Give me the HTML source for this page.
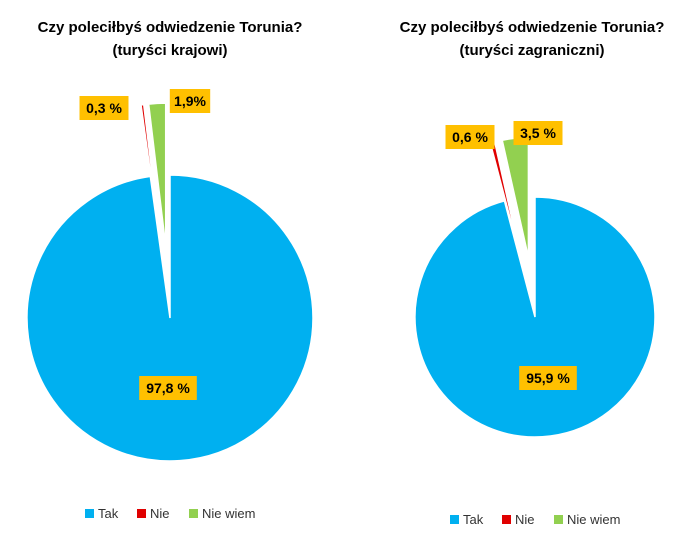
<!DOCTYPE html>
<html><head><meta charset="utf-8">
<style>
body{margin:0;background:#fff;width:691px;height:540px;overflow:hidden;font-family:"Liberation Sans",sans-serif}
svg text{font-family:"Liberation Sans",sans-serif}
</style></head>
<body>
<svg id="c" width="691" height="540">
<text x="170" y="32" font-size="15" font-weight="bold" text-anchor="middle">Czy poleciłbyś odwiedzenie Torunia?</text>
<text x="170" y="55" font-size="15" font-weight="bold" text-anchor="middle">(turyści krajowi)</text>
<text x="532" y="32" font-size="15" font-weight="bold" text-anchor="middle">Czy poleciłbyś odwiedzenie Torunia?</text>
<text x="532" y="55" font-size="15" font-weight="bold" text-anchor="middle">(turyści zagraniczni)</text>
</svg>
<script>
const categories=["Tak","Nie","Nie wiem"];
const domesticValues=[97.8,0.3,1.9];
const foreignValues=[95.9,0.6,3.5];
const domesticLabels=["97,8 %","0,3 %","1,9%"];
const foreignLabels=["95,9 %","0,6 %","3,5 %"];
const colors=["#00B0F0","#E00000","#92D050"];
const svg=document.getElementById('c');
const NS="http://www.w3.org/2000/svg";
function pt(cx,cy,r,a){return [cx+r*Math.sin(a),cy-r*Math.cos(a)];}
function drawPie(vals,labels,cx,cy,r,explode,key,labelPos,legendY){
  const tot=vals.reduce((a,b)=>a+b,0);let start=0;
  vals.forEach((v,i)=>{
    const ang=v/tot*2*Math.PI,end=start+ang,mid=(start+end)/2;
    const off=i===0?0:explode;
    const ox=cx+off*Math.sin(mid),oy=cy-off*Math.cos(mid);
    const p1=pt(ox,oy,r,start),p2=pt(ox,oy,r,end);
    const p=document.createElementNS(NS,'path');
    p.setAttribute('d',`M${ox},${oy}L${p1[0]},${p1[1]}A${r},${r} 0 ${ang>Math.PI?1:0} 1 ${p2[0]},${p2[1]}Z`);
    p.setAttribute('fill',colors[i]);p.setAttribute('stroke','#fff');p.setAttribute('stroke-width','1.5');
    
    
    svg.appendChild(p);
    start=end;
  });
  labels.forEach((t,i)=>{
    const [lx,ly]=labelPos[i];
    const w=t.length*8.6+6;
    const g=document.createElementNS(NS,'g');
    
    
    const rc=document.createElementNS(NS,'rect');
    rc.setAttribute('x',lx-w/2);rc.setAttribute('y',ly-12);rc.setAttribute('width',w);rc.setAttribute('height',24);rc.setAttribute('fill','#FFC000');
    const tx=document.createElementNS(NS,'text');
    tx.setAttribute('x',lx);tx.setAttribute('y',ly+5);tx.setAttribute('text-anchor','middle');tx.setAttribute('font-size','14');tx.setAttribute('font-weight','bold');
    tx.textContent=t;g.appendChild(rc);g.appendChild(tx);svg.appendChild(g);
  });
  let lx=cx-85;
  categories.forEach((c,i)=>{
    const g=document.createElementNS(NS,'g');
    
    
    const rc=document.createElementNS(NS,'rect');
    rc.setAttribute('x',lx);rc.setAttribute('y',legendY-9);rc.setAttribute('width',9);rc.setAttribute('height',9);rc.setAttribute('fill',colors[i]);
    const tx=document.createElementNS(NS,'text');
    tx.setAttribute('x',lx+13);tx.setAttribute('y',legendY);tx.setAttribute('font-size','13');tx.setAttribute('fill','#333');
    tx.textContent=c;g.appendChild(rc);g.appendChild(tx);svg.appendChild(g);
    lx+=13+c.length*7+18;
  });
}
drawPie(domesticValues,domesticLabels,170,318,143,72,'domestic',[[168,388],[104,108],[190,101]],518);
drawPie(foreignValues,foreignLabels,535,317,120,60,'foreign',[[548,378],[470,137],[538,133]],524);
</script>
</body></html>
